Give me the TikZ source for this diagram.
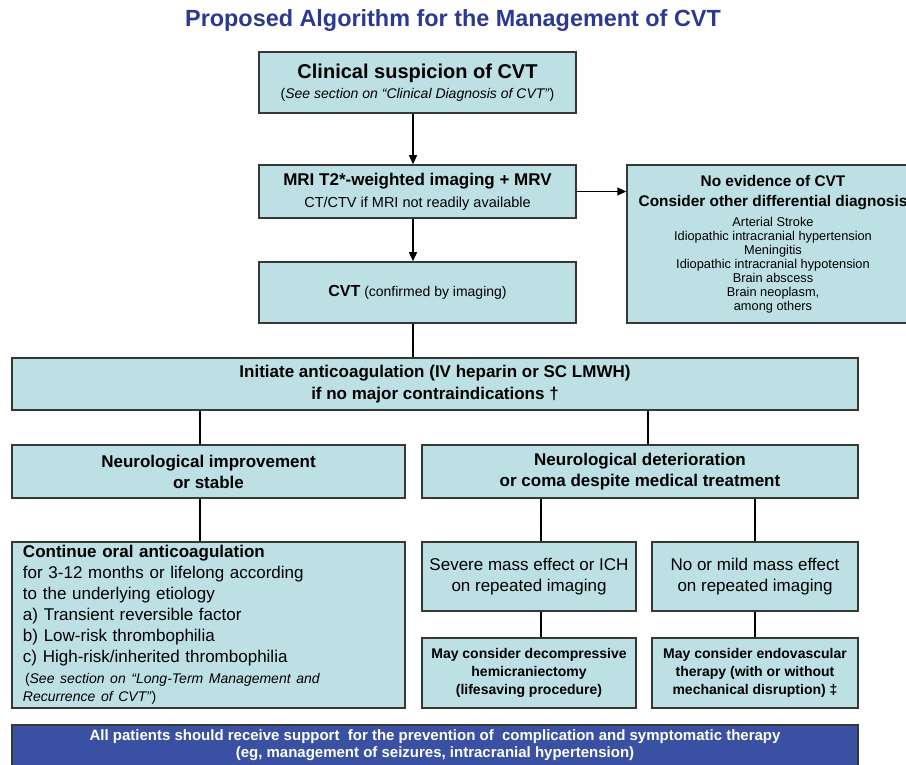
\documentclass[tikz,border=0pt]{standalone}
\usepackage{fontspec}
\setmainfont{Liberation Sans}
\usetikzlibrary{arrows.meta}
\setlength\parindent{0pt}
\definecolor{boxfill}{RGB}{189,224,228}
\definecolor{boxline}{RGB}{55,55,55}
\definecolor{titleblue}{RGB}{43,57,144}
\definecolor{bluefill}{RGB}{58,80,162}
\begin{document}
\begin{tikzpicture}[x=1pt,y=-1pt,
  box/.style={draw=boxline, line width=1.5pt, fill=boxfill, inner sep=0pt, align=center},
  conn/.style={line width=1.2pt, draw=black},
  arr/.style={conn, -{Triangle[length=9pt,width=8pt]}}]
\useasboundingbox (0,0) rectangle (906,765);
% title
\node[font=\fontsize{23.4}{26}\selectfont\bfseries, text=titleblue] (title) at (453,21) {Proposed Algorithm for the Management of CVT};
% boxes
\node[box, minimum width=317pt, minimum height=61pt, font=\fontsize{14}{20}\selectfont] (clin) at (417.5,82.5)
  {{\fontsize{20}{20}\selectfont\bfseries Clinical suspicion of CVT}\\(\textit{See section on “Clinical Diagnosis of CVT”})};
\node[box, minimum width=317pt, minimum height=53pt, font=\fontsize{14.5}{22}\selectfont] (mri) at (417.5,191.5)
  {{\fontsize{17}{20}\selectfont\bfseries MRI T2*-weighted imaging + MRV}\\CT/CTV if MRI not readily available};
\node[box, minimum width=292pt, minimum height=158pt, font=\fontsize{12.8}{14}\selectfont] (noev) at (773,244)
  {{\fontsize{15.4}{16}\selectfont\bfseries No evidence of CVT}\\[6pt]
   {\fontsize{15.4}{16}\selectfont\bfseries Consider other differential diagnosis}\\[6pt]
   Arterial Stroke\\Idiopathic intracranial hypertension\\Meningitis\\Idiopathic intracranial hypotension\\Brain abscess\\Brain neoplasm,\\among others};
\node[box, minimum width=317pt, minimum height=61pt, font=\fontsize{14}{20}\selectfont] (cvt) at (417.5,292.5)
  {{\fontsize{16}{20}\selectfont\bfseries CVT} (confirmed by imaging)};
\node[box, minimum width=846pt, minimum height=52pt, font=\fontsize{17}{22}\selectfont\bfseries] (init) at (435,384)
  {Initiate anticoagulation (IV heparin or SC LMWH)\\if no major contraindications †};
\node[box, minimum width=393pt, minimum height=53pt, font=\fontsize{17}{21}\selectfont\bfseries] (nl) at (208.5,471.5)
  {Neurological improvement\\or stable};
\node[box, minimum width=436pt, minimum height=53pt, font=\fontsize{17}{21}\selectfont\bfseries] (nr) at (640,471.5)
  {Neurological deterioration\\or coma despite medical treatment};
\node[box, minimum width=393pt, minimum height=166pt, text width=371pt, align=left, font=\fontsize{17}{21}\selectfont] (cont) at (208.5,625)
  {{\bfseries Continue oral anticoagulation}\\
   for 3-12 months or lifelong according\\
   to the underlying etiology\\
   a) Transient reversible factor\\
   b) Low-risk thrombophilia\\
   c) High-risk/inherited thrombophilia\par\vspace{3pt}
   {\fontsize{14}{18}\selectfont\hspace{2pt}(\textit{See section on “Long-Term Management and}\\\textit{Recurrence of CVT”})\par}};
\node[box, minimum width=214pt, minimum height=69pt, font=\fontsize{17}{21}\selectfont] (sev) at (529,576.5)
  {Severe mass effect or ICH\\on repeated imaging};
\node[box, minimum width=206pt, minimum height=69pt, font=\fontsize{17}{21}\selectfont] (mild) at (755,576.5)
  {No or mild mass effect\\on repeated imaging};
\node[box, minimum width=214pt, minimum height=70pt, font=\fontsize{14}{18}\selectfont\bfseries] (dec) at (529,673)
  {May consider decompressive\\hemicraniectomy\\(lifesaving procedure)};
\node[box, minimum width=206pt, minimum height=70pt, font=\fontsize{14}{18}\selectfont\bfseries] (endo) at (755,673)
  {May consider endovascular\\therapy (with or without\\mechanical disruption) ‡};
\node[box, fill=bluefill, text=white, minimum width=846pt, minimum height=41pt, font=\fontsize{15}{17}\selectfont\bfseries] (all) at (435,745.5)
  {All patients should receive support\ \ for the prevention of\ \ complication and symptomatic therapy\\(eg, management of seizures, intracranial hypertension)};
% connector columns
\coordinate (cx) at (413,0);
\coordinate (lx) at (200,0);
\coordinate (rx) at (648,0);
\coordinate (sx) at (541,0);
\coordinate (mx) at (755,0);
\draw[arr] (clin.south -| cx) -- (mri.north -| cx);
\draw[arr] (mri.south -| cx) -- (cvt.north -| cx);
\draw[arr] (mri.east) -- (noev.west |- mri.east);
\draw[conn] (cvt.south -| cx) -- (init.north -| cx);
\draw[conn] (init.south -| lx) -- (nl.north -| lx);
\draw[conn] (init.south -| rx) -- (nr.north -| rx);
\draw[conn] (nl.south -| lx) -- (cont.north -| lx);
\draw[conn] (nr.south -| sx) -- (sev.north -| sx);
\draw[conn] (nr.south -| mx) -- (mild.north -| mx);
\draw[conn] (sev.south -| sx) -- (dec.north -| sx);
\draw[conn] (mild.south -| mx) -- (endo.north -| mx);
\end{tikzpicture}
\end{document}
